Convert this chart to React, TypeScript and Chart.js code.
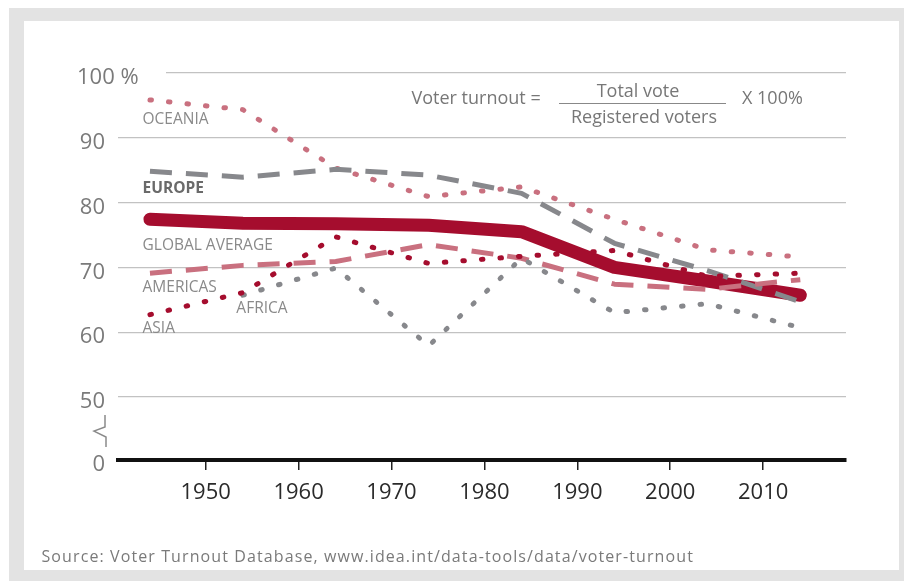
import React, { useEffect, useRef } from 'react';
import { Chart, registerables } from 'chart.js';

Chart.register(...registerables);

// ---- data ----
const YEARS = [1944, 1954, 1964, 1974, 1984, 1994, 2004, 2014];
const GLOBAL_AVERAGE = [77.4, 76.8, 76.7, 76.5, 75.5, 70.0, 67.9, 65.7];
const OCEANIA = [95.8, 94.3, 85.3, 80.9, 82.4, 77.4, 72.7, 71.6];
const EUROPE = [84.8, 83.9, 85.1, 84.2, 81.4, 73.7, 69.5, 64.7];
const AMERICAS = [69.1, 70.3, 70.9, 73.5, 71.4, 67.4, 66.6, 68.1];
const AFRICA = [null, 65.7, 69.9, 57.9, 71.4, 63.0, 64.4, 60.7];
const ASIA = [62.7, 66.1, 74.7, 70.6, 71.7, 72.6, 68.6, 69.1];

const X_TICKS = [1950, 1960, 1970, 1980, 1990, 2000, 2010];
const Y_TICKS = [50, 60, 70, 80, 90, 100];
const Y_BREAK = 40.3; // where "0" sits below the axis break
const X_MIN = 1940.56;
const X_MAX = 2018.92;

const SERIES_NAMES = ['GLOBAL AVERAGE', 'OCEANIA', 'EUROPE', 'AMERICAS', 'AFRICA', 'ASIA'];

// text annotation anchors in data units (year, value at baseline)
const LABEL_ANCHORS = [
  { text: 'OCEANIA', year: 1943.2, value: 92.1, bold: false },
  { text: 'EUROPE', year: 1943.2, value: 81.4, bold: true },
  { text: 'GLOBAL AVERAGE', year: 1943.2, value: 72.7, bold: false },
  { text: 'AMERICAS', year: 1943.2, value: 66.2, bold: false },
  { text: 'AFRICA', year: 1953.3, value: 62.9, bold: false },
  { text: 'ASIA', year: 1943.2, value: 59.9, bold: false },
];

const SOURCE_TEXT = 'Source: Voter Turnout Database, www.idea.int/data-tools/data/voter-turnout';

const DARK_RED = '#a50d2e';
const PINK = '#c9707f';
const GRAY = '#87888c';
const FONT = "'Open Sans', 'DejaVu Sans', sans-serif";

const toPoints = (arr: (number | null)[]) => YEARS.map((x, i) => ({ x, y: arr[i] }));

const decorPlugin = {
  id: 'decor',
  beforeDraw(chart: any) {
    const ctx = chart.ctx;
    ctx.save();
    ctx.fillStyle = '#ffffff';
    ctx.fillRect(0, 0, chart.width, chart.height);
    ctx.fillStyle = '#e3e3e3';
    ctx.fillRect(9, 8, chart.width - 9, chart.height - 8);
    ctx.fillStyle = '#ffffff';
    ctx.fillRect(24, 21, 899 - 24, 570 - 21);
    ctx.restore();
  },
  afterDraw(chart: any) {
    const ctx = chart.ctx;
    const xs = chart.scales.x;
    const ys = chart.scales.y;
    const area = chart.chartArea;
    ctx.save();

    // 100 % label (its gridline starts after the label)
    const y100 = ys.getPixelForValue(100);
    ctx.fillStyle = '#ffffff';
    ctx.fillRect(area.left - 1, y100 - 2, 167 - area.left, 4);
    ctx.fillStyle = '#7a7a7a';
    ctx.font = `22px ${FONT}`;
    ctx.textAlign = 'left';
    ctx.textBaseline = 'middle';
    ctx.fillText('100 %', 77, y100 + 5);

    // axis break symbol
    const y50 = ys.getPixelForValue(50);
    const y0 = ys.getPixelForValue(Y_BREAK);
    const bx = area.left - 13;
    ctx.strokeStyle = '#8a8a8a';
    ctx.lineWidth = 1.5;
    ctx.beginPath();
    ctx.moveTo(bx, y50 + 18);
    ctx.lineTo(bx, y50 + 30);
    ctx.lineTo(bx - 11, y50 + 34);
    ctx.lineTo(bx + 1, y50 + 40);
    ctx.lineTo(bx + 1, y0 - 13);
    ctx.stroke();

    // series labels
    ctx.textBaseline = 'alphabetic';
    for (const l of LABEL_ANCHORS) {
      ctx.font = `${l.bold ? 'bold ' : ''}15.5px ${FONT}`;
      ctx.fillStyle = l.bold ? '#6a6a6a' : '#8a8a8a';
      ctx.fillText(l.text, xs.getPixelForValue(l.year), ys.getPixelForValue(l.value));
    }

    // formula
    ctx.font = `18px ${FONT}`;
    ctx.fillStyle = '#777777';
    ctx.textAlign = 'left';
    ctx.fillText('Voter turnout =', 411.5, 103.5);
    ctx.textAlign = 'center';
    ctx.fillText('Total vote', 638, 97);
    ctx.fillText('Registered voters', 644, 122.5);
    ctx.strokeStyle = '#888888';
    ctx.lineWidth = 1.2;
    ctx.beginPath();
    ctx.moveTo(559, 103.5);
    ctx.lineTo(726, 103.5);
    ctx.stroke();
    ctx.textAlign = 'left';
    ctx.fillText('X 100%', 742, 103.5);

    // source
    ctx.font = `16px ${FONT}`;
    ctx.fillStyle = '#7a7a7a';
    (ctx as any).letterSpacing = '1.1px';
    ctx.fillText(SOURCE_TEXT, 41.5, 562);
    (ctx as any).letterSpacing = '0px';

    ctx.restore();
  },
};

export default function App() {
  const ref = useRef<HTMLCanvasElement | null>(null);

  useEffect(() => {
    if (!ref.current) return;
    const dotted = (color: string) => ({
      borderColor: color,
      borderWidth: 5,
      borderDash: [1.5, 17.1],
      borderCapStyle: 'round' as const,
      borderJoinStyle: 'round' as const,
    });
    const dashed = (color: string) => ({
      borderColor: color,
      borderWidth: 5,
      borderDash: [22, 14],
      borderCapStyle: 'butt' as const,
      borderJoinStyle: 'round' as const,
    });
    const chart = new Chart(ref.current, {
      type: 'line',
      data: {
        datasets: [
          {
            label: SERIES_NAMES[0],
            data: toPoints(GLOBAL_AVERAGE),
            borderColor: DARK_RED,
            borderWidth: 13,
            borderCapStyle: 'round',
            borderJoinStyle: 'round',
            order: 10,
          },
          { label: SERIES_NAMES[1], data: toPoints(OCEANIA), ...dotted(PINK), order: 5 },
          { label: SERIES_NAMES[2], data: toPoints(EUROPE), ...dashed(GRAY), order: 4 },
          { label: SERIES_NAMES[3], data: toPoints(AMERICAS), ...dashed(PINK), order: 3 },
          { label: SERIES_NAMES[4], data: toPoints(AFRICA), ...dotted(GRAY), order: 2 },
          { label: SERIES_NAMES[5], data: toPoints(ASIA), ...dotted(DARK_RED), order: 1 },
        ] as any,
      },
      options: {
        responsive: false,
        animation: false,
        devicePixelRatio: 1,
        elements: { point: { radius: 0, hoverRadius: 0 }, line: { tension: 0, fill: false } },
        layout: { padding: { left: 0, top: 72.7, right: 58, bottom: 71 } },
        plugins: { legend: { display: false }, tooltip: { enabled: false } },
        scales: {
          x: {
            type: 'linear',
            min: X_MIN,
            max: X_MAX,
            afterBuildTicks: (s: any) => {
              s.ticks = X_TICKS.map((v) => ({ value: v }));
            },
            afterFit: (s: any) => {
              s.height = 50;
            },
            grid: { drawOnChartArea: false, drawTicks: true, tickLength: 10, color: '#222222', lineWidth: 1.5 },
            border: { display: true, color: '#111111', width: 4 },
            ticks: {
              callback: (v: any) => String(v),
              font: { family: FONT, size: 22 },
              color: '#2a2a2a',
              padding: 10,
              maxRotation: 0,
              autoSkip: false,
            },
          },
          y: {
            type: 'linear',
            min: Y_BREAK,
            max: 100,
            afterBuildTicks: (s: any) => {
              s.ticks = [Y_BREAK, ...Y_TICKS].map((v) => ({ value: v }));
            },
            afterFit: (s: any) => {
              s.width = 118;
            },
            grid: {
              drawTicks: false,
              color: (c: any) => (c.tick && c.tick.value < 45 ? 'rgba(0,0,0,0)' : '#c2c2c2'),
              lineWidth: 1.2,
            },
            border: { display: false },
            ticks: {
              callback: (v: any) => (v === 100 ? '' : v < 45 ? '0' : String(v)),
              font: { family: FONT, size: 22 },
              color: '#7a7a7a',
              padding: 13,
              labelOffset: 5,
              autoSkip: false,
            },
          },
        },
      } as any,
      plugins: [decorPlugin],
    });
    return () => chart.destroy();
  }, []);

  return (
    <div style={{ position: 'relative', width: 904, height: 581 }}>
      <canvas ref={ref} width={904} height={581} style={{ position: 'fixed', left: 0, top: 0 }} />
    </div>
  );
}
